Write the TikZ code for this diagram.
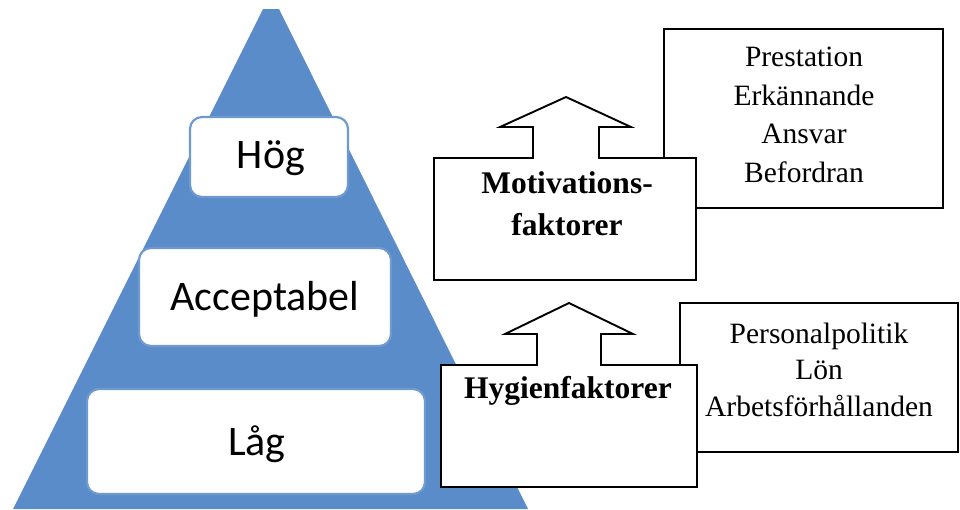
\documentclass[tikz,border=0pt]{standalone}
\usepackage{fontspec}
\setmainfont{Liberation Serif}
\newfontfamily\calfont{Carlito}
\definecolor{pyrblue}{HTML}{5A8CC9}
\definecolor{pyredge}{HTML}{6F9AD0}
\tikzset{
  levelbox/.style={fill=white, draw=pyredge, line width=2.2pt, rounded corners=12pt},
  leveltext/.style={font=\calfont\fontsize{42}{50}\selectfont, anchor=base, inner sep=0pt},
  listbox/.style={fill=white, draw=black, line width=1.9pt},
  arrowbox/.style={fill=white, draw=black, line width=1.9pt, line join=miter},
  listtext/.style={font=\fontsize{29.5}{35}\selectfont, anchor=base, inner sep=0pt},
  headtext/.style={font=\bfseries\fontsize{31.5}{38}\selectfont, anchor=base, inner sep=0pt}
}
\begin{document}
\begin{tikzpicture}[x=1pt, y=-1pt]
\useasboundingbox (0,0) rectangle (960,509);
\begin{scope}
\clip (0,0) rectangle (960,509);
% pyramid
\fill[pyrblue] (13,509) -- (263,9) -- (279,9) -- (528,509) -- cycle;
% level boxes
\draw[levelbox] (190,117) rectangle (348,197);
\draw[levelbox] (139,248) rectangle (391,346);
\draw[levelbox] (87,389) rectangle (425,494);
\end{scope}
\node[leveltext] (hog) at (271,168) {Hög};
\node[leveltext] (acc) at (265,310) {Acceptabel};
\node[leveltext] (lag) at (257,455) {Låg};

% right list boxes
\draw[listbox] (664,29) rectangle (943,208);
\draw[listbox] (680,303) rectangle (958,452);
\node[listtext] (l1) at (804,66) {Prestation};
\node[listtext] (l2) at (804,105) {Erkännande};
\node[listtext] (l3) at (804,143.5) {Ansvar};
\node[listtext] (l4) at (804,182) {Befordran};
\node[listtext] (p1) at (819,343) {Personalpolitik};
\node[listtext] (p2) at (819,379.5) {Lön};
\node[listtext] (p3) at (819,416) {Arbetsförhållanden};

% arrow boxes
\draw[arrowbox] (434,158) -- (533,158) -- (533,127) -- (500,127) -- (566,97)
  -- (631,127) -- (599,127) -- (599,158) -- (696,158) -- (696,280) -- (434,280) -- cycle;
\draw[arrowbox] (441,365) -- (537,365) -- (537,334) -- (505,334) -- (569,303)
  -- (633,334) -- (601,334) -- (601,365) -- (697,365) -- (697,487) -- (441,487) -- cycle;
\node[headtext] (mot1) at (567,193) {Motivations-};
\node[headtext] (mot2) at (567,235) {faktorer};
\node[headtext] (hyg) at (568,398) {Hygienfaktorer};
\end{tikzpicture}
\end{document}
